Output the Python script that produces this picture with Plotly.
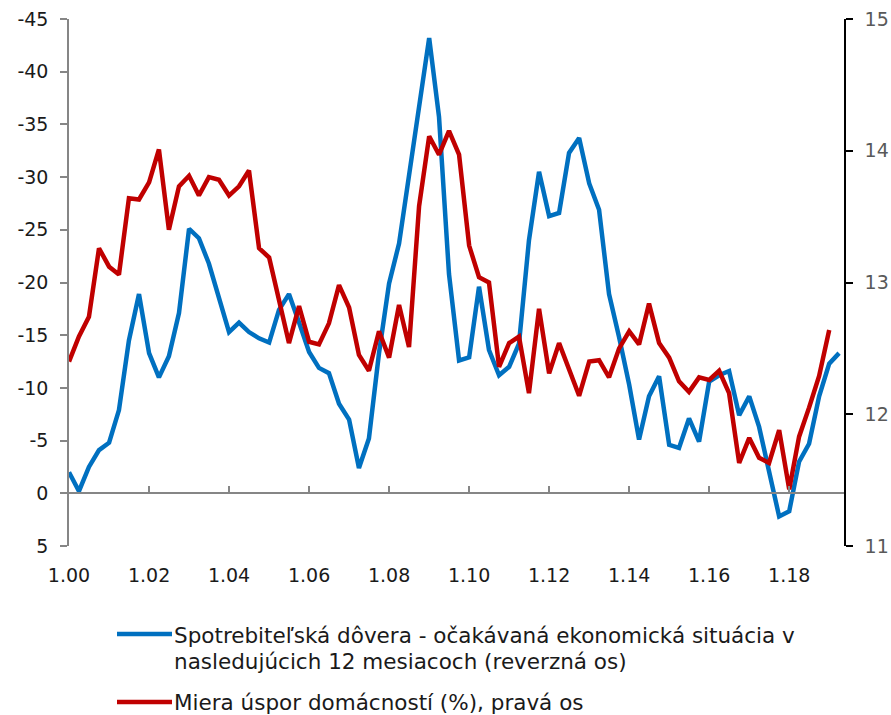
import pandas as pd
import plotly.graph_objects as go

# Quarterly observations starting in Q1 2000
quarters = pd.date_range("2000-01-01", periods=78, freq="QS")

# Consumer confidence - expected economic situation over the next 12 months (balance, reversed axis)
confidence = [
    -2.0, -0.2, -2.5, -4.1, -4.8, -7.9, -14.5, -18.9, -13.3, -11.0,
    -13.0, -17.1, -25.1, -24.2, -21.8, -18.7, -15.3, -16.2, -15.3, -14.7,
    -14.3, -17.4, -18.9, -16.2, -13.4, -11.9, -11.4, -8.5, -7.0, -2.4,
    -5.2, -13.3, -19.9, -23.7, -30.0, -37.0, -43.2, -35.7, -20.8, -12.6,
    -12.9, -19.6, -13.6, -11.2, -12.0, -14.2, -24.0, -30.5, -26.3, -26.6,
    -32.3, -33.7, -29.4, -26.9, -18.9, -14.8, -10.3, -5.1, -9.2, -11.1,
    -4.6, -4.3, -7.1, -4.9, -10.6, -11.2, -11.6, -7.4, -9.2, -6.3,
    -2.2, 2.2, 1.7, -3.0, -4.7, -9.2, -12.3, -13.3,
]

# Household saving rate (%), right axis
saving_rate = [
    12.40, 12.59, 12.74, 13.26, 13.12, 13.06, 13.64, 13.63, 13.76, 14.01,
    13.40, 13.73, 13.81, 13.66, 13.80, 13.78, 13.66, 13.73, 13.85, 13.26,
    13.19, 12.87, 12.54, 12.82, 12.55, 12.53, 12.69, 12.98, 12.81, 12.45,
    12.33, 12.63, 12.43, 12.83, 12.51, 13.58, 14.11, 13.97, 14.15, 13.97,
    13.28, 13.04, 13.00, 12.36, 12.54, 12.59, 12.16, 12.80, 12.31, 12.54,
    12.34, 12.14, 12.40, 12.41, 12.28, 12.50, 12.63, 12.53, 12.84, 12.54,
    12.43, 12.25, 12.17, 12.28, 12.26, 12.33, 12.16, 11.63, 11.82, 11.67,
    11.63, 11.88, 11.43, 11.83, 12.05, 12.29, 12.64,
]

# Axis ticks and their labels
left_ticks = [-45, -40, -35, -30, -25, -20, -15, -10, -5, 0, 5]
left_labels = ["-45", "-40", "-35", "-30", "-25", "-20", "-15", "-10", "-5", "0", "5"]
right_ticks = [11, 12, 13, 14, 15]
right_labels = ["11", "12", "13", "14", "15"]

# Series names, one entry per printed line
confidence_name = [
    "Spotrebiteľská dôvera - očakávaná ekonomická situácia v",
    "nasledujúcich 12 mesiacoch (reverzná os)",
]
saving_name = ["Miera úspor domácností (%), pravá os"]

BLUE = "#0070C0"
RED = "#C00000"
FONT = "DejaVu Sans"
TEXT = "#1a1a1a"

W, H = 891, 715
ML, MR, MT, MB = 69, 47, 19, 169
PW, PH = W - ML - MR, H - MT - MB


def px_to_paper(px, py):
    return (px - ML) / PW, (H - MB - py) / PH


fig = go.Figure()
fig.add_trace(go.Scatter(
    x=quarters, y=confidence, mode="lines", name=" ".join(confidence_name),
    line=dict(color=BLUE, width=4.5), xaxis="x", yaxis="y", showlegend=False,
))
fig.add_trace(go.Scatter(
    x=quarters[:len(saving_rate)], y=saving_rate, mode="lines", name=saving_name[0],
    line=dict(color=RED, width=4.5), xaxis="x2", yaxis="y2", showlegend=False,
))

x_range = ["2000-01-01", "2019-05-16"]
date_ticks = dict(tick0="2000-01-01", dtick="M24", tickformat="%-m.%y")

# Legend below the plot: a swatch line and the series name, line by line
shapes = []
annotations = []
legend_rows = [(634, 635, confidence_name, BLUE), (702, 702, saving_name, RED)]
for swatch_y, text_y, lines, color in legend_rows:
    x0, y0 = px_to_paper(117, swatch_y)
    x1, _ = px_to_paper(172, swatch_y)
    shapes.append(dict(type="line", xref="paper", yref="paper", x0=x0, x1=x1,
                       y0=y0, y1=y0, line=dict(color=color, width=4.5)))
    for k, line in enumerate(lines):
        tx, ty = px_to_paper(172, text_y + 26 * k)
        annotations.append(dict(xref="paper", yref="paper", x=tx, y=ty, text=line,
                                showarrow=False, xanchor="left", yanchor="middle",
                                align="left",
                                font=dict(family=FONT, size=21.5, color=TEXT)))

fig.update_layout(
    width=W, height=H,
    margin=dict(l=ML, r=MR, t=MT, b=MB, autoexpand=False),
    paper_bgcolor="white", plot_bgcolor="white",
    font=dict(family=FONT, size=19, color=TEXT),
    # bottom axis: date labels only
    xaxis=dict(
        range=x_range, **date_ticks, anchor="y", side="bottom", automargin=False,
        showline=False, ticks="", showticklabels=True, showgrid=False, zeroline=False,
        ticklabelstandoff=16, tickfont=dict(family=FONT, size=19, color=TEXT),
    ),
    # category axis line crossing the value axis at zero
    xaxis2=dict(
        range=x_range, **date_ticks, overlaying="x", anchor="free", position=0.1,
        automargin=False,
        showline=True, linecolor="#868686", linewidth=1.5,
        ticks="inside", ticklen=7, tickcolor="#868686", tickwidth=1.5,
        showticklabels=False, showgrid=False, zeroline=False,
    ),
    yaxis=dict(
        range=[5, -45], tickvals=left_ticks, ticktext=left_labels, automargin=False,
        showline=True, linecolor="#868686", linewidth=1.5,
        ticks="outside", ticklen=7, tickcolor="#868686", tickwidth=1.5,
        showgrid=False, zeroline=False, ticklabelstandoff=8,
        tickfont=dict(family=FONT, size=19, color=TEXT),
    ),
    yaxis2=dict(
        range=[11, 15], tickvals=right_ticks, ticktext=right_labels,
        overlaying="y", side="right", anchor="x", automargin=False,
        showline=True, linecolor="#000000", linewidth=1.5,
        ticks="outside", ticklen=7, tickcolor="#000000", tickwidth=1.5,
        showgrid=False, zeroline=False, ticklabelstandoff=8,
        tickfont=dict(family=FONT, size=19, color="#595959"),
    ),
    shapes=shapes,
    annotations=annotations,
    showlegend=False,
)

fig.write_html("out.html")
